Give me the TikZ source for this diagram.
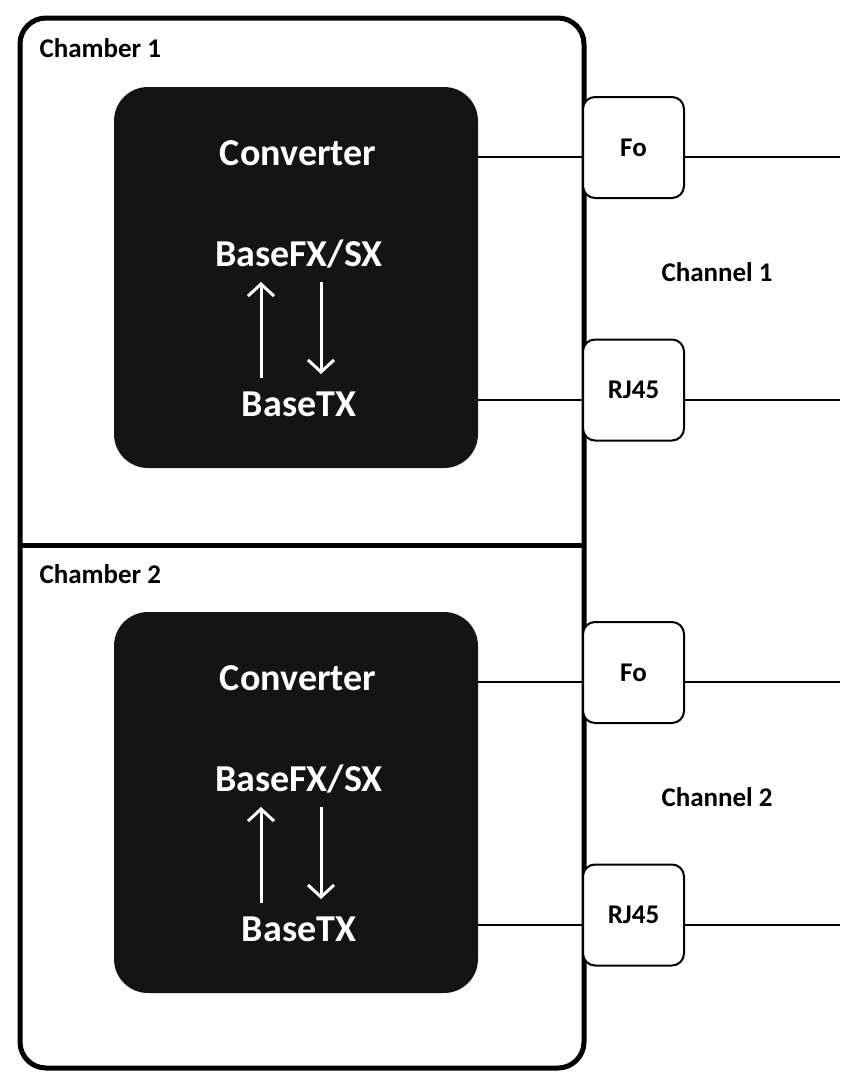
\documentclass[tikz,border=0pt]{standalone}
\usepackage{fontspec}
\setmainfont{Carlito}
\usetikzlibrary{arrows.meta}
\begin{document}
\begin{tikzpicture}[x=1pt,y=-1pt,
  port/.style={draw,line width=2pt,rounded corners=12pt,fill=white,minimum width=101pt,minimum height=101pt,font=\bfseries\fontsize{27}{30}\selectfont},
  wt/.style={text=white,font=\bfseries\fontsize{38}{44}\selectfont},
  lbl/.style={font=\bfseries\fontsize{27}{30}\selectfont,anchor=west},
  wire/.style={line width=2pt},
  warr/.style={draw=white,line width=3pt,-{Straight Barb[length=12pt,width=26pt,line width=3pt]}}]
\useasboundingbox (0,0) rectangle (852,1087);
\draw[line width=5pt,rounded corners=26pt] (20,18) rectangle (584,1068);
\draw[line width=5pt] (20,545) -- (584,545);
\node[lbl] (ch1) at (36,48) {Chamber 1};
\node[lbl] (ch2) at (36,574) {Chamber 2};
\foreach \i/\y in {1/0,2/525}{
  \begin{scope}[yshift=-\y pt]
  \fill[black!92,rounded corners=34pt] (114,87) rectangle (478,468);
  \node[wt] (c\i) at (298,153) {Converter};
  \node[wt] (f\i) at (299,254) {BaseFX/SX};
  \node[wt] (t\i) at (299,404) {BaseTX};
  \coordinate (ua\i) at (261,378); \coordinate (ub\i) at (261,282);
  \coordinate (da\i) at (321,282); \coordinate (db\i) at (321,374);
  \draw[warr] (ua\i) -- (ub\i);
  \draw[warr] (da\i) -- (db\i);
  \node[port] (fo\i) at (633.5,147.5) {Fo};
  \node[port] (rj\i) at (633.5,390) {RJ45};
  \coordinate (cl\i) at (478,157); \coordinate (ce\i) at (840,157);
  \coordinate (rl\i) at (478,400); \coordinate (re\i) at (840,400);
  \draw[wire] (cl\i) -- (cl\i -| fo\i.west);
  \draw[wire] (ce\i -| fo\i.east) -- (ce\i);
  \draw[wire] (rl\i) -- (rl\i -| rj\i.west);
  \draw[wire] (re\i -| rj\i.east) -- (re\i);
  \node[lbl] (chan\i) at (658,272) {Channel \i};
  \end{scope}}
\end{tikzpicture}
\end{document}
